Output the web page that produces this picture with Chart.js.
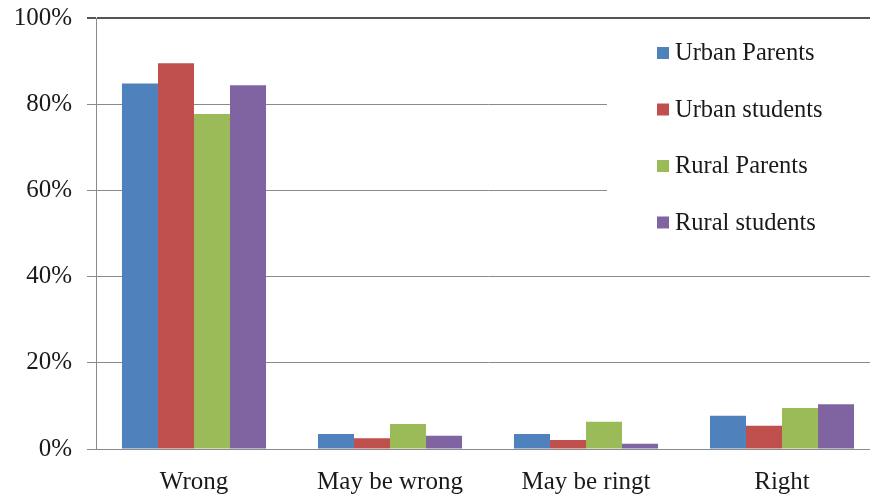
<!DOCTYPE html>
<html>
<head>
<meta charset="utf-8">
<script src="https://cdn.jsdelivr.net/npm/chart.js@4.4.0/dist/chart.umd.min.js"></script>
<style>
  html, body { margin: 0; padding: 0; background: #fff; overflow: hidden; }
  #wrap { width: 882px; height: 497px; position: relative; }
</style>
</head>
<body>
<div id="wrap"><canvas id="chart"></canvas></div>
<script>
// Podaci za graf
const categories = ['Wrong', 'May be wrong', 'May be ringt', 'Right'];
const urbanParents = [84.8, 3.5, 3.5, 7.7];
const urbanStudents = [89.5, 2.5, 2.1, 5.4];
const ruralParents = [77.7, 5.8, 6.3, 9.5];
const ruralStudents = [84.4, 3.1, 1.2, 10.4];
const yTicks = [0, 20, 40, 60, 80, 100];

const fontFamily = "'Liberation Serif', 'Times New Roman', serif";
Chart.defaults.font.family = fontFamily;
Chart.defaults.color = '#1a1a1a';

// Legenda unutar grafa, s bijelom pozadinom preko mreže
const boxLegend = {
    id: 'boxLegend',
    afterDraw(chart) {
        const ctx = chart.ctx;
        ctx.save();
        ctx.fillStyle = '#ffffff';
        ctx.fillRect(607, 21, 275, 232);
        ctx.font = '24.5px ' + fontFamily;
        ctx.textBaseline = 'middle';
        chart.data.datasets.forEach((ds, i) => {
            const y = 53 + i * 56.5;
            ctx.fillStyle = ds.backgroundColor;
            ctx.fillRect(657, y - 6, 12, 12);
            ctx.fillStyle = '#1a1a1a';
            ctx.fillText(ds.label, 675, y + 1);
        });
        ctx.restore();
    }
};

new Chart(document.getElementById('chart'), {
    type: 'bar',
    data: {
        labels: categories,
        datasets: [
            { label: 'Urban Parents', data: urbanParents, backgroundColor: '#4F81BD' },
            { label: 'Urban students', data: urbanStudents, backgroundColor: '#C0504D' },
            { label: 'Rural Parents', data: ruralParents, backgroundColor: '#9BBB59' },
            { label: 'Rural students', data: ruralStudents, backgroundColor: '#8064A2' }
        ]
    },
    options: {
        responsive: true,
        maintainAspectRatio: false,
        animation: false,
        layout: { padding: { top: 18, right: 2, left: 0, bottom: 0 } },
        datasets: {
            bar: { categoryPercentage: 0.735, barPercentage: 1.0, borderWidth: 0 }
        },
        plugins: {
            legend: { display: false },
            tooltip: { enabled: false }
        },
        scales: {
            x: {
                grid: { display: false, drawTicks: false },
                border: { color: '#8a8a8a', width: 1 },
                ticks: { font: { size: 25 }, padding: 18, color: '#1a1a1a' },
                afterFit: (s) => { s.height = 48; s.paddingLeft = 0; s.paddingRight = 0; }
            },
            y: {
                min: 0,
                max: 100,
                afterBuildTicks: (s) => { s.ticks = yTicks.map(v => ({ value: v })); },
                grid: {
                    color: (c) => c.tick && c.tick.value === 100 ? '#555555' : '#8a8a8a',
                    lineWidth: (c) => c.tick && c.tick.value === 100 ? 2 : 1,
                    tickLength: 9
                },
                border: { color: '#8a8a8a', width: 1 },
                ticks: {
                    font: { size: 25 },
                    padding: 15,
                    color: '#1a1a1a',
                    callback: (v) => v + '%'
                },
                afterFit: (s) => { s.width = 96; s.paddingTop = 0; s.paddingBottom = 0; }
            }
        }
    },
    plugins: [boxLegend]
});
</script>
</body>
</html>
